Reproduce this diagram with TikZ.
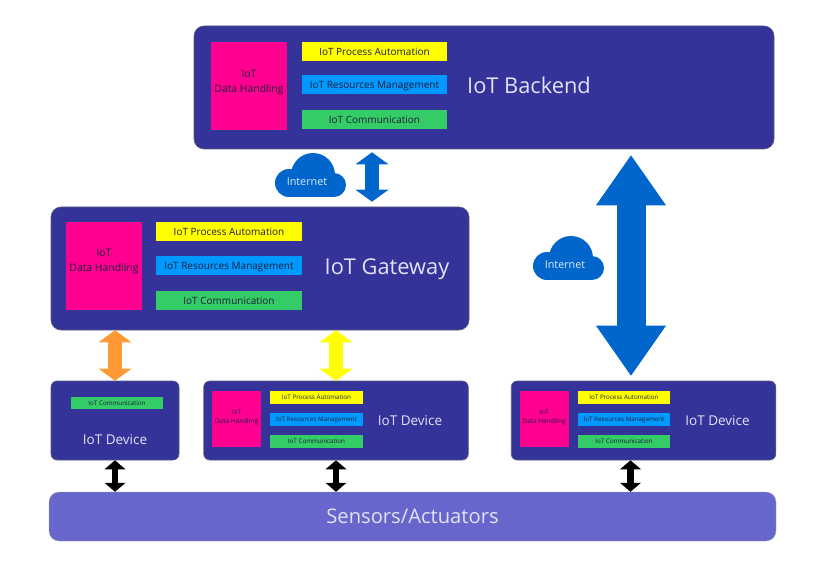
\documentclass[tikz,border=0pt]{standalone}
\usepackage{fontspec}
\setmainfont{Open Sans}
\usepackage{xcolor}
\usetikzlibrary{arrows.meta}
\definecolor{tierblue}{HTML}{333399}
\definecolor{tieredge}{HTML}{5A5A80}
\definecolor{sensorblue}{HTML}{6666CC}
\definecolor{linkblue}{HTML}{0066CC}
\definecolor{linkorange}{HTML}{FF9933}
\definecolor{hotpink}{HTML}{FF0090}
\definecolor{procyellow}{HTML}{FFFF00}
\definecolor{resblue}{HTML}{0099FF}
\definecolor{commgreen}{HTML}{33CC66}
\definecolor{titlegray}{HTML}{E2E2F4}
\definecolor{boxink}{HTML}{1E1E3C}
\newcommand{\handletext}{IoT\\Data Handling\\[-4pt]\mbox{}}
\tikzset{
  tier/.style={draw=tieredge,fill=tierblue,line width=0.6pt,rounded corners=10pt,
               inner sep=0pt,text=titlegray},
  smalltier/.style={tier,rounded corners=6pt},
  sensorbar/.style={draw=tieredge!50,fill=sensorblue,line width=0.4pt,rounded corners=10pt,inner sep=0pt,
                    text=titlegray,font=\fontsize{20.2}{22}\selectfont},
  func/.style={inner sep=0pt,align=center,text=boxink},
  funcbig/.style={func,minimum width=145.5pt,minimum height=19pt,text height=7.2pt,text depth=0pt,
                  font=\fontsize{10}{11}\selectfont},
  functiny/.style={func,minimum width=92.5pt,minimum height=13pt,text height=4.6pt,text depth=0pt,
                   font=\fontsize{6.25}{7}\selectfont},
  handlebig/.style={func,fill=hotpink,minimum width=76pt,minimum height=88pt,font=\fontsize{10.4}{15}\selectfont},
  handletiny/.style={func,fill=hotpink,minimum width=49pt,minimum height=56pt,font=\fontsize{6.5}{9}\selectfont},
  bigtitle/.style={text=titlegray,font=\fontsize{21.8}{24}\selectfont},
  devtitle/.style={text=titlegray,font=\fontsize{13.5}{16}\selectfont},
  cloudtext/.style={text=white!88!linkblue,font=\fontsize{10.8}{12}\selectfont},
  linkarr/.style={{Triangle[length=12pt,width=33pt,line width=0pt]}-{Triangle[length=12pt,width=33pt,line width=0pt]},line width=14pt},
  bigarr/.style={{Triangle[length=50pt,width=70pt,line width=0pt]}-{Triangle[length=50pt,width=70pt,line width=0pt]},line width=29pt,color=linkblue},
  busarr/.style={{Triangle[length=9pt,width=21pt,line width=0pt]}-{Triangle[length=9pt,width=21pt,line width=0pt]},line width=6.5pt,color=black},
  netcloud/.pic={
    \fill[linkblue] (38,22) circle (22);
    \fill[linkblue] (14,30) circle (14);
    \fill[linkblue] (59,32) circle (12);
    \fill[linkblue] (14,25) rectangle (59,44);
  }
}
\begin{document}
\begin{tikzpicture}[x=1pt,y=-1pt]
  \useasboundingbox (0,0) rectangle (833,572);
  % backend
  \node[tier,minimum width=580pt,minimum height=123pt] (backend) at (484,87.5) {};
  \node[handlebig] (backdata) at (249,86.5) {\handletext};
  \node[funcbig,fill=procyellow] (backproc) at (374.5,51.5) {IoT Process Automation};
  \node[funcbig,fill=resblue] (backres) at (374.5,85) {IoT Resources Management};
  \node[funcbig,fill=commgreen] (backcomm) at (374.5,119.5) {IoT Communication};
  \node[bigtitle] (backtitle) at (529,85) {IoT Backend};
  % gateway
  \node[tier,minimum width=418pt,minimum height=123pt] (gateway) at (260,268.5) {};
  \node[handlebig] (gatedata) at (104,266) {\handletext};
  \node[funcbig,fill=procyellow] (gateproc) at (229,232) {IoT Process Automation};
  \node[funcbig,fill=resblue] (gateres) at (229,265.5) {IoT Resources Management};
  \node[funcbig,fill=commgreen] (gatecomm) at (229,300.5) {IoT Communication};
  \node[bigtitle] (gatetitle) at (387,269) {IoT Gateway};
  % devices
  \node[smalltier,minimum width=128pt,minimum height=79pt] (dev1) at (115,420.5) {};
  \node[functiny,fill=commgreen,minimum width=92pt,minimum height=12pt] (dev1comm) at (117,403) {IoT Communication};
  \node[devtitle] (dev1title) at (115,440) {IoT Device};
  \foreach \name/\cx in {dev2/336,dev3/643.5}{
    \node[smalltier,minimum width=264.5pt,minimum height=79pt] (\name) at (\cx,420.5) {};
    \node[handletiny] (\name data) at (\cx-99.5,419) {\handletext};
    \node[functiny,fill=procyellow] (\name proc) at (\cx-19.5,397.5) {IoT Process Automation};
    \node[functiny,fill=resblue] (\name res) at (\cx-19.5,419) {IoT Resources Management};
    \node[functiny,fill=commgreen] (\name comm) at (\cx-19.5,441) {IoT Communication};
    \node[devtitle] (\name title) at (\cx+74,420.5) {IoT Device};
  }
  % sensors
  \node[sensorbar,minimum width=727pt,minimum height=49pt] (sensors) at (412.5,516.5) {Sensors/Actuators};
  % links
  \draw[linkarr,color=linkblue,shorten <=3pt,shorten >=5pt] ([xshift=-112pt]backend.south) -- ([xshift=112pt]gateway.north);
  \draw[bigarr,shorten <=6pt,shorten >=5pt] ([xshift=147pt]backend.south) -- ([xshift=-12.5pt]dev3.north);
  \draw[linkarr,color=linkorange] (dev1.north |- gateway.south) -- (dev1.north);
  \draw[linkarr,color=procyellow] (dev2.north |- gateway.south) -- (dev2.north);
  \draw[busarr] (dev1.south) -- (dev1.south |- sensors.north);
  \draw[busarr] (dev2.south) -- (dev2.south |- sensors.north);
  \draw[busarr] ([xshift=-13pt]dev3.south) -- ([xshift=-13pt]dev3.south |- sensors.north);
  % clouds
  \pic at (275,153) {netcloud};
  \node[cloudtext] (net1) at (307,182) {Internet};
  \pic at (533,236) {netcloud};
  \node[cloudtext] (net2) at (565,265) {Internet};
\end{tikzpicture}
\end{document}
